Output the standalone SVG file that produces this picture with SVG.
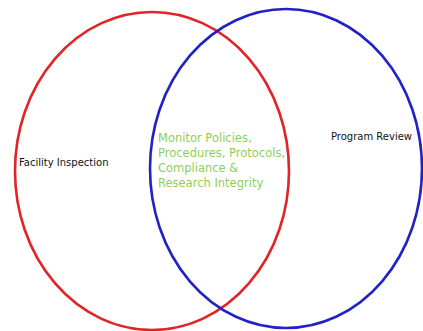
<svg xmlns="http://www.w3.org/2000/svg" width="423" height="331" viewBox="0 0 423 331">
<style>
.c{fill:none;stroke-width:2.6}
.t{font-family:"DejaVu Sans",sans-serif}
.g{fill:#8ccf5a;font-size:11.5px}
.k{fill:#111;font-size:10px}
</style>
<rect width="423" height="331" fill="#fff"/>
<g id="facility">
<ellipse class="c" cx="152" cy="171" rx="137" ry="159" stroke="#e02428"/>
<text class="t k" x="19" y="166">Facility Inspection</text>
</g>
<g id="program">
<ellipse class="c" cx="286" cy="168.5" rx="136" ry="159.5" stroke="#2222c4"/>
<text class="t k" x="331" y="140">Program Review</text>
</g>
<g id="overlap">
<text class="t g" x="158" y="141.5">Monitor Policies,</text>
<text class="t g" x="158" y="156.5">Procedures, Protocols,</text>
<text class="t g" x="158" y="171.5">Compliance &amp;</text>
<text class="t g" x="158" y="186.5">Research Integrity</text>
</g>
<g id="connectors"></g>
</svg>
